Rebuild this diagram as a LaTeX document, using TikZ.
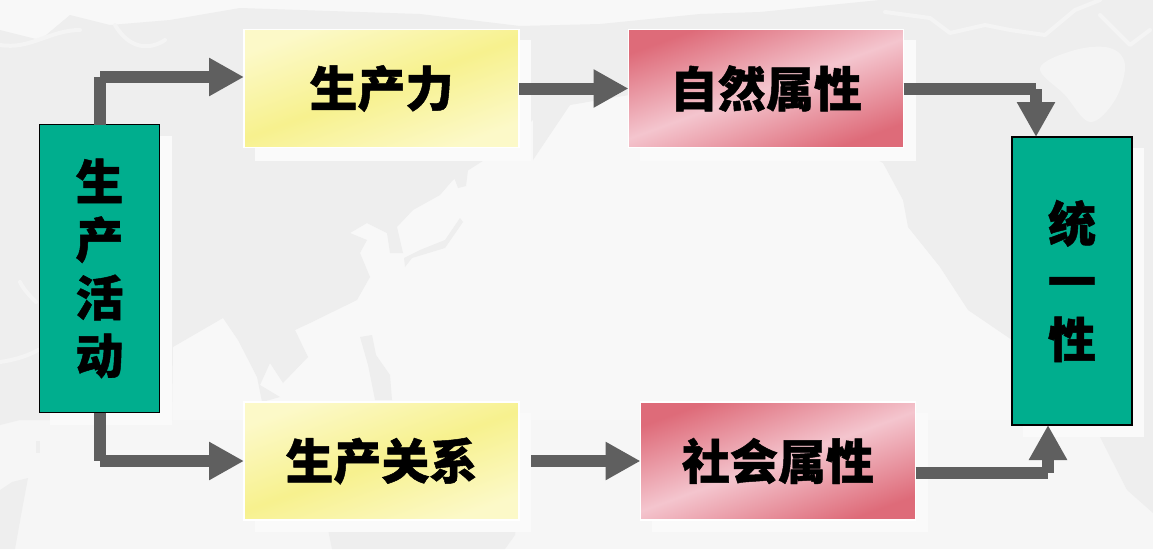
\documentclass[tikz,border=0pt]{standalone}
\usepackage{fontspec}
\newfontfamily\cjk[BoldFeatures={FakeBold=1}]{Noto Sans CJK SC}
\usetikzlibrary{arrows.meta,calc}
\definecolor{teal}{HTML}{00AE8E}
\definecolor{arrowgray}{HTML}{5F5F5F}
\definecolor{yl}{HTML}{FCF9C8}
\definecolor{ym}{HTML}{F7F18E}
\definecolor{pl}{HTML}{F4C5CE}
\definecolor{pd}{HTML}{DE6B79}
\definecolor{seac}{HTML}{F8F8F8}
\definecolor{seab}{HTML}{F6F6F6}
\definecolor{landc}{HTML}{EEEEEE}
\definecolor{veinc}{HTML}{F4F4F4}
\definecolor{shadowc}{HTML}{FAFAFA}
\tikzset{
  every node/.style={outer sep=0pt,inner sep=0pt},
  label font/.style={font=\cjk\bfseries\fontsize{48}{48}\selectfont,text=black},
  tealbox/.style={draw=black,line width=1.3pt,fill=teal,minimum width=120pt,label font,align=center},
  yellowbox/.style={draw=white,line width=1.5pt,minimum width=275pt,minimum height=118pt,label font,top color=yl,bottom color=yl,middle color=ym,shading angle=20},
  pinkbox/.style={draw=white,line width=1.5pt,minimum width=275pt,minimum height=118pt,label font,top color=pd,bottom color=pd,middle color=pl,shading angle=20},
  shaft/.style={draw=arrowgray,line width=12pt},
  headed/.style={shaft,-{Triangle[length=35pt,width=36pt,fill=arrowgray]}},
  shadowbox/.style={fill=shadowc,draw=none},
  land/.style={fill=landc,draw=none},
  vein/.style={draw=veinc,line width=4pt,line cap=round,line join=round},
}
\begin{document}
\begin{tikzpicture}[x=1pt,y=-1pt]
\useasboundingbox (0,0) rectangle (1153,549);
\fill[seac] (0,0) rectangle (1153,549);
\fill[seab] (0,420) rectangle (1153,549);
% map: Eurasia
\fill[land] (0,30) -- (40,40) -- (70,15) -- (110,25) -- (170,20) -- (240,8) -- (420,14) -- (520,26) -- (600,24) -- (700,14) -- (760,12) -- (760,85)
  -- (629,95) -- (570,105) -- (533,160) -- (533,120) -- (500,150) -- (453,180) -- (440,195) -- (413,210) -- (397,227) -- (403,253) -- (390,253) -- (387,233) -- (367,223) -- (350,233) -- (367,240) -- (360,253) -- (370,277) -- (357,300) -- (310,323) -- (295,330) -- (308,357) -- (283,383) -- (270,363) -- (260,385) -- (280,397) -- (262,402) -- (257,377) -- (238,340) -- (223,318) -- (173,347) -- (172,420) -- (20,420) -- (0,425) -- cycle;
\draw[vein] (0,362) .. controls (15,360) and (30,355) .. (38,350);
\draw[vein] (20,282) .. controls (24,290) and (30,296) .. (36,302);
\draw[vein] (0,45) .. controls (30,50) and (50,30) .. (80,30);
\draw[vein] (115,25) .. controls (130,50) and (150,50) .. (165,40);
% Japan and islands
\fill[land] (405,267) -- (412,258) -- (445,248) -- (463,222) -- (460,218) -- (445,240) -- (420,250) -- (404,258) -- cycle;
\fill[land] (452,172) -- (468,170) -- (466,186) -- (458,188) -- cycle;
\fill[land] (360,337) -- (372,335) -- (376,355) -- (390,375) -- (392,400) -- (375,400) -- (368,365) -- cycle;
% Australia
\fill[land] (322,500) -- (520,500) -- (515,535) -- (505,549) -- (332,549) -- cycle;
% Africa and edges
\fill[land] (0,490) -- (12,482) -- (28,478) -- (22,510) -- (15,549) -- (0,549) -- cycle;
\fill[land] (36,441) rectangle (40,453);
% the Americas
\fill[land] (880,0) -- (1153,0) -- (1153,513) -- (1127,490) -- (1100,437) -- (1012,340) -- (968,310) -- (940,267) -- (908,227) -- (903,200) -- (883,163) -- (860,150) -- (860,85) -- (760,85) -- (760,12) -- cycle;
\fill[veinc] plot[smooth cycle,tension=0.6] coordinates {(1040,68) (1075,50) (1110,48) (1125,65) (1115,100) (1090,122) (1065,95)};
\draw[vein] (885,12) -- (930,18) -- (950,33) -- (985,25) -- (1010,30) -- (1045,35) -- (1075,10) -- (1100,0);
\draw[vein] (1100,15) -- (1115,30) -- (1130,45) -- (1150,30);
% shadows
\fill[shadowbox] (50,136) rectangle (172,425);
\fill[shadowbox] (255,40) rectangle (531,161);
\fill[shadowbox] (640,40) rectangle (916,161);
\fill[shadowbox] (1023,148) rectangle (1144,437);
\fill[shadowbox] (255,413) rectangle (531,532);
\fill[shadowbox] (652,413) rectangle (928,532);
% boxes
\node[tealbox,minimum height=288pt] (gen) at (99.5,268.5) {生\\[10pt]产\\[10pt]活\\[10pt]动};
\node[yellowbox] (force) at (381.5,88.5) {生产力};
\node[pinkbox] (nature) at (766,88.5) {自然属性};
\node[tealbox,minimum height=288pt] (unity) at (1072,281) {统\\[10pt]一\\[10pt]性};
\node[yellowbox] (rel) at (381.5,461) {生产关系};
\node[pinkbox] (society) at (778,461) {社会属性};
% corners
\coordinate (c1) at (100,77);
\coordinate (c2) at (100,461);
\coordinate (c3) at (1036,89);
\coordinate (c4) at (1048,473);
% connectors
\draw[shaft] (gen.north-|c1) -- (c1);
\draw[headed] (c1) -- (force.west|-c1);
\draw[shaft] (gen.south-|c2) -- (c2);
\draw[headed] (c2) -- (rel.west|-c2);
\draw[headed] (force.east) -- (nature.west);
\draw[headed] ($(rel.east)+(12,0)$) -- (society.west);
\draw[shaft] (nature.east|-c3) -- (c3);
\draw[headed] (c3) -- (unity.north-|c3);
\draw[shaft] (society.east|-c4) -- (c4);
\draw[headed] (c4) -- (unity.south-|c4);
\end{tikzpicture}
\end{document}
